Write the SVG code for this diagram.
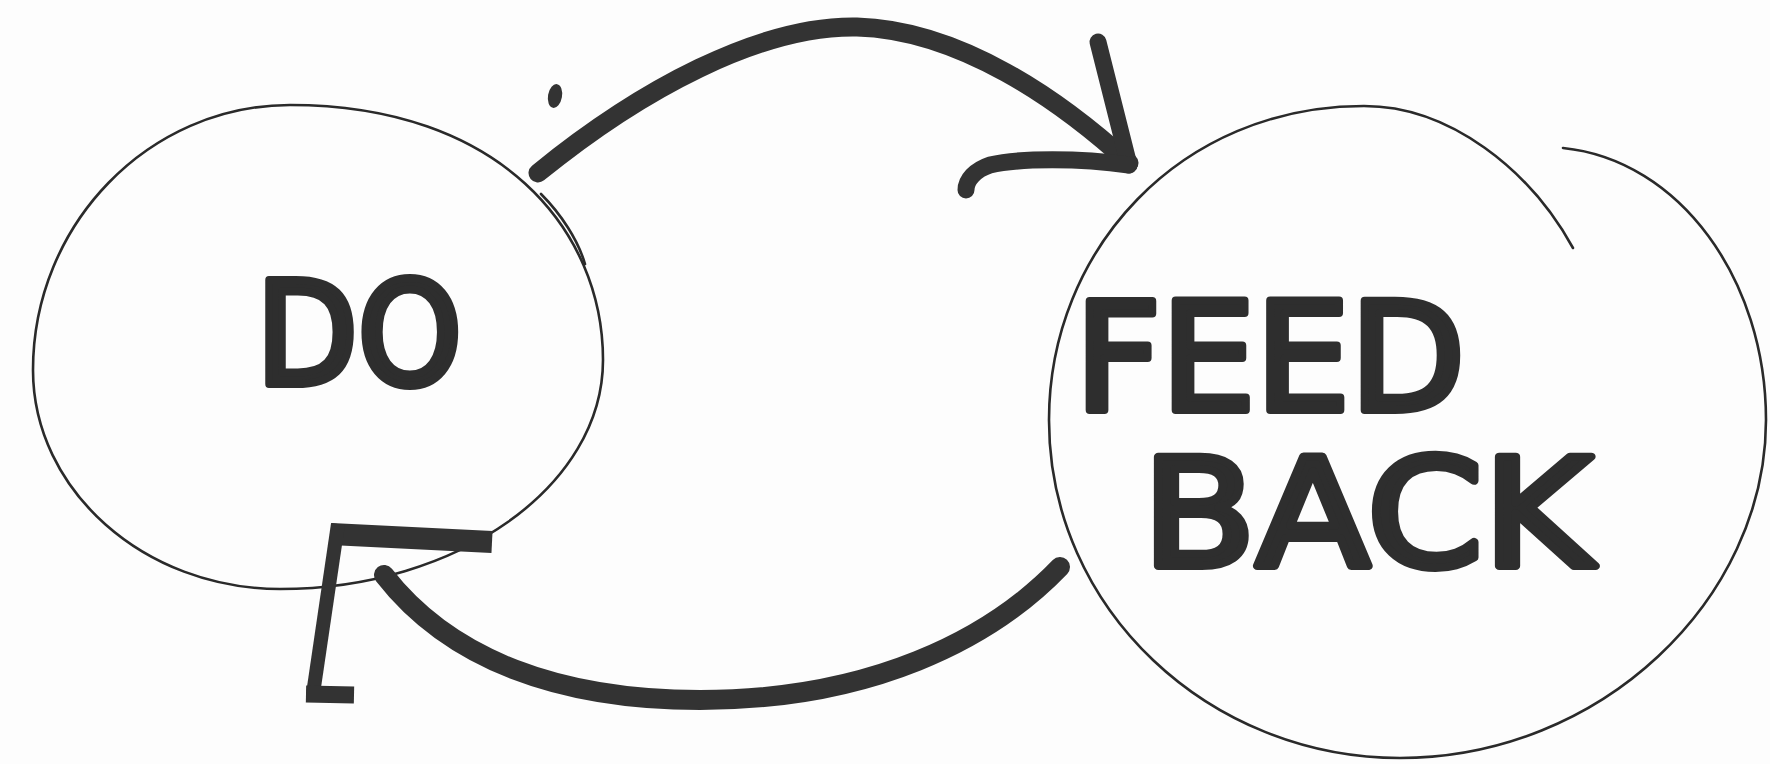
<svg xmlns="http://www.w3.org/2000/svg" width="1770" height="764" viewBox="0 0 1770 764">
  <style>
    .thin { fill: none; stroke: #2a2a2a; stroke-width: 2.6; stroke-linecap: round; stroke-linejoin: round; }
    .thick { fill: none; stroke: #333333; stroke-linecap: round; stroke-linejoin: round; }
    .thick.flat { stroke-linecap: butt; }
    .hand { font-family: "DejaVu Sans", "Liberation Sans", sans-serif; font-weight: normal; fill: #2e2e2e; stroke: #2e2e2e; stroke-width: 8; stroke-linejoin: round; stroke-linecap: round; }
  </style>
  <rect width="1770" height="764" fill="#fdfdfd"/>

  <g id="node-do">
    <path class="thin" d="M290,105 C149,105 33,224 33,370 C33,490 144,589 280,589 C458,589 603,486 603,360 C603,230 500,105 290,105 Z"/>
    <path class="thin" d="M541,194 C561,214 578,240 585,264"/>
    <text class="hand" x="256" y="384" font-size="142" textLength="206" lengthAdjust="spacingAndGlyphs">DO</text>
  </g>

  <g id="node-feedback">
    <path class="thin" d="M1573,248 C1530,170 1450,106 1364,106 C1180,106 1049,250 1049,420 C1049,610 1210,758 1400,758 C1600,758 1766,600 1766,420 C1766,280 1680,160 1563,148"/>
    <text class="hand" x="1075" y="410" font-size="150" textLength="390" lengthAdjust="spacingAndGlyphs">FEED</text>
    <text class="hand" x="1142" y="566" font-size="150" textLength="450" lengthAdjust="spacingAndGlyphs">BACK</text>
  </g>

  <g id="connectors">
    <!-- upper arrow: DO -> FEEDBACK -->
    <path class="thick" stroke-width="19" d="M538,173 C640,90 760,25 857,27 C960,30 1060,100 1129,163"/>
    <path class="thick" stroke-width="17" d="M1098,42 L1129,165"/>
    <path class="thick" stroke-width="17" d="M1129,165 C1080,158 1020,158 990,165 C975,170 966,180 966,190"/>
    <ellipse cx="555" cy="96" rx="7" ry="12" fill="#333333" transform="rotate(10 555 96)"/>

    <!-- lower arrow: FEEDBACK -> DO -->
    <path class="thick" stroke-width="20" d="M1060,567 C990,640 870,700 700,700 C560,700 450,660 384,575"/>
    <path class="thick flat" stroke-width="22" d="M331,534 L492,542"/>
    <path class="thick flat" stroke-width="14" d="M338,524 L313,694"/>
    <path class="thick flat" stroke-width="17" d="M306,694 L354,695"/>
  </g>
</svg>
